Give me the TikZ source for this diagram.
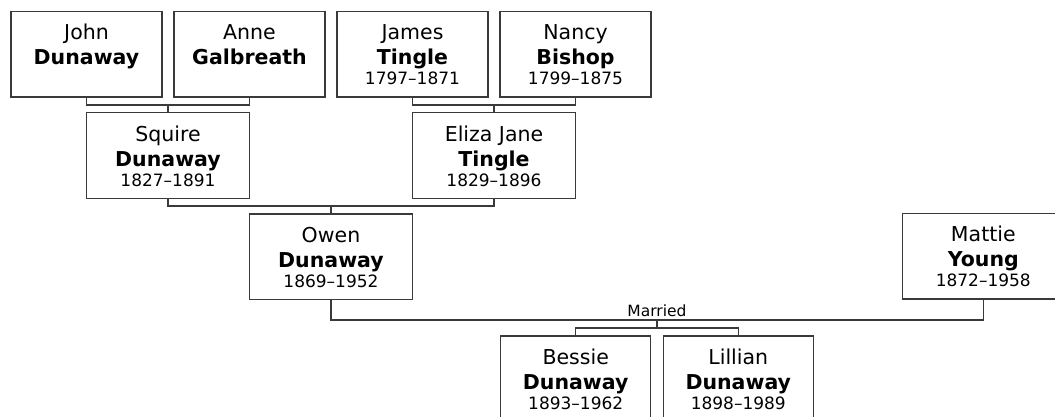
\documentclass[tikz,border=0pt]{standalone}
\usepackage{fontspec}
\setmainfont{DejaVu Sans}
\definecolor{linec}{HTML}{3A3A3A}
\tikzset{
  pbox/.style={draw=linec, line width=1.3pt, inner sep=0pt, minimum height=85.5pt},
  narrowbox/.style={pbox, minimum width=151pt},
  widebox/.style={pbox, minimum width=163pt},
  conn/.style={draw=linec, line width=1.3pt},
  fname/.style={anchor=base, inner sep=0pt, font=\fontsize{20.5}{24}\selectfont},
  lname/.style={anchor=base, inner sep=0pt, font=\fontsize{20.5}{24}\selectfont\bfseries},
  dates/.style={anchor=base, inner sep=0pt, font=\fontsize{17}{20}\selectfont},
  lbl/.style={anchor=base, inner sep=0pt, font=\fontsize{15.5}{18}\selectfont}
}
\newcommand\persontext[4]{%
  \node[fname] (#1-f) at ([yshift=-29pt]#1.north) {#2};
  \node[lname] (#1-l) at ([yshift=-54pt]#1.north) {#3};
  \if\relax\detokenize{#4}\relax\else
  \node[dates] (#1-d) at ([yshift=-74pt]#1.north) {#4};\fi}
\begin{document}
\begin{tikzpicture}[x=1pt,y=-1pt]
\useasboundingbox (0,0) rectangle (1055,417);
\clip (0,0) rectangle (1055,417);
% row 1
\node[narrowbox] (john)  at (86.5,54.35) {};
\node[narrowbox] (anne)  at (249.5,54.35) {};
\node[narrowbox] (james) at (412.5,54.35) {};
\node[narrowbox] (nancy) at (575.5,54.35) {};
% row 2
\node[widebox] (squire) at (168,155.5) {};
\node[widebox] (eliza)  at (494,155.5) {};
% row 3
\node[widebox] (owen)   at (331,256.65) {};
\node[widebox, minimum width=162pt] (mattie) at (983.3,256.3) {};
% row 4
\node[pbox, minimum width=150pt] (bessie)  at (575.7,378.65) {};
\node[pbox, minimum width=150pt] (lillian) at (738.3,378.65) {};
% texts
\persontext{john}{John}{Dunaway}{}
\persontext{anne}{Anne}{Galbreath}{}
\persontext{james}{James}{Tingle}{1797–1871}
\persontext{nancy}{Nancy}{Bishop}{1799–1875}
\persontext{squire}{Squire}{Dunaway}{1827–1891}
\persontext{eliza}{Eliza Jane}{Tingle}{1829–1896}
\persontext{owen}{Owen}{Dunaway}{1869–1952}
\persontext{mattie}{Mattie}{Young}{1872–1958}
\persontext{bessie}{Bessie}{Dunaway}{1893–1962}
\persontext{lillian}{Lillian}{Dunaway}{1898–1989}
% junctions
\coordinate (j1) at (168,105);
\coordinate (j2) at (494,105);
\coordinate (j3) at (331,206);
\coordinate (jm) at (657,320);
\coordinate (jc) at (657,328);
\draw[conn] (john.south) |- (j1) -| (anne.south);
\draw[conn] (j1) -- (squire.north);
\draw[conn] (james.south) |- (j2) -| (nancy.south);
\draw[conn] (j2) -- (eliza.north);
\draw[conn] (squire.south) |- (j3) -| (eliza.south);
\draw[conn] (j3) -- (owen.north);
\draw[conn] (owen.south) |- (jm) -| (mattie.south);
\node[lbl] (married) at (657,316) {Married};
\draw[conn] (jm) -- (jc);
\draw[conn] (bessie.north) |- (jc) -| (lillian.north);
\end{tikzpicture}
\end{document}
